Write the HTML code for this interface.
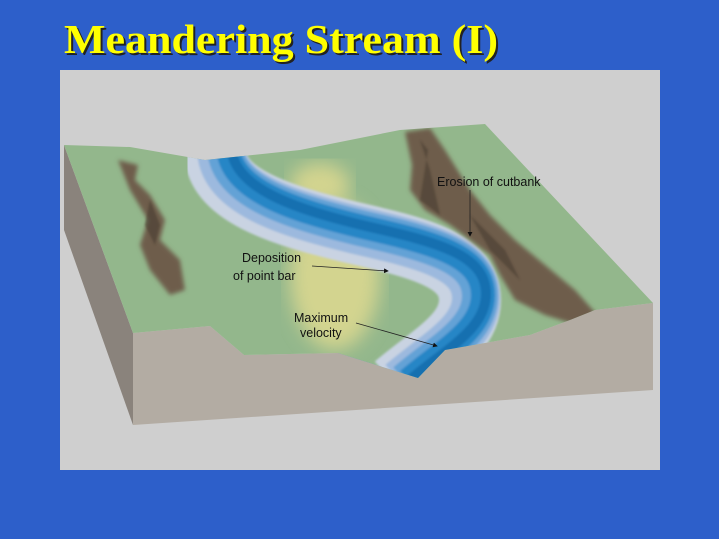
<!DOCTYPE html>
<html><head><meta charset="utf-8"><style>
html,body{margin:0;padding:0;background:#2d5fca;}
svg{display:block}
</style></head><body>
<svg width="719" height="539" viewBox="0 0 719 539" xmlns="http://www.w3.org/2000/svg">
<defs>
<filter id="b2"><feGaussianBlur stdDeviation="2"/></filter>
<filter id="b6"><feGaussianBlur stdDeviation="9"/></filter>
<filter id="b1"><feGaussianBlur stdDeviation="1"/></filter>
<clipPath id="top"><path d="M64,145 L130,147 L205,160 L300,150 L400,130 L485,124 L653,303 L595,310 L570,320 L530,335 L445,350 L418,378 L338,353 L244,355 L210,326 L133,333 Z"/></clipPath>
<marker id="ah" markerWidth="6" markerHeight="6" refX="5" refY="3" orient="auto"><path d="M0,0 L6,3 L0,6 Z" fill="#111"/></marker>
</defs>
<rect width="719" height="539" fill="#2d5fca"/>
<text x="64" y="53" font-family="Liberation Serif, serif" font-weight="bold" font-size="41" fill="#222" textLength="434" lengthAdjust="spacingAndGlyphs" transform="translate(2,2)">Meandering Stream (I)</text>
<text x="64" y="53" font-family="Liberation Serif, serif" font-weight="bold" font-size="41" fill="#ffff00" textLength="434" lengthAdjust="spacingAndGlyphs">Meandering Stream (I)</text>
<rect x="60" y="70" width="600" height="400" fill="#cfcfcf"/>
<path d="M64,145 L64,230 L133,425 L133,333 Z" fill="#8a837c"/>
<path d="M133,333 L210,326 L244,355 L338,353 L418,378 L445,350 L530,335 L570,320 L595,310 L653,303 L653,390 L133,425 Z" fill="#b3aca3"/>
<path d="M338,353 L418,378 L445,350 Z" fill="#4e8fc8"/>
<g clip-path="url(#top)">
<rect x="60" y="110" width="600" height="280" fill="#93b78c"/>
<ellipse cx="335" cy="275" rx="45" ry="75" fill="#d3d48f" filter="url(#b6)"/>
<ellipse cx="320" cy="185" rx="30" ry="22" fill="#d3d48f" filter="url(#b6)"/>
<g fill="none" filter="url(#b1)">
<path d="M215,150 C215,195 280,215 350,232 C420,248 470,260 470,300 C470,335 430,355 395,385" stroke="#c9d3e2" stroke-width="62"/>
<path d="M215,150 C215,195 280,215 350,232 C420,248 470,260 470,300 C470,335 430,355 395,385" stroke="#9cb9de" stroke-width="48" transform="translate(6,-2)"/>
<path d="M215,150 C215,195 280,215 350,232 C420,248 470,260 470,300 C470,335 430,355 395,385" stroke="#64a2d6" stroke-width="36" transform="translate(10,-4)"/>
<path d="M215,150 C215,195 280,215 350,232 C420,248 470,260 470,300 C470,335 430,355 395,385" stroke="#2886c6" stroke-width="24" transform="translate(13,-5)"/>
<path d="M215,150 C215,195 280,215 350,232 C420,248 470,260 470,300 C470,335 430,355 395,385" stroke="#1670b0" stroke-width="10" transform="translate(16,-6)"/>
</g>
<g fill="#6e5d4c" filter="url(#b2)">
<path d="M118,160 L138,165 L135,180 L150,195 L165,220 L160,240 L180,260 L185,290 L170,295 L150,270 L140,245 L148,220 L130,190 Z"/>
<path d="M405,132 L430,128 L445,150 L470,190 L490,215 L515,240 L545,265 L575,290 L600,318 L580,326 L545,315 L515,300 L500,275 L490,255 L470,240 L450,225 L425,210 L410,190 L412,165 Z"/>
</g>
<g fill="#4a3e33" opacity="0.6" filter="url(#b1)">
<path d="M420,140 L428,150 L420,200 L440,215 L430,170 Z"/>
<path d="M470,215 L490,250 L520,280 L505,250 Z"/>
<path d="M150,200 L160,225 L155,245 L145,225 Z"/>
</g>
</g>
<g font-family="Liberation Sans, sans-serif" font-size="12.5" fill="#111">
<text x="437" y="186">Erosion of cutbank</text>
<text x="242" y="262">Deposition</text>
<text x="233" y="280">of point bar</text>
<text x="294" y="322">Maximum</text>
<text x="300" y="337">velocity</text>
</g>
<g stroke="#222" stroke-width="0.8" fill="none">
<line x1="470" y1="190" x2="470" y2="236" marker-end="url(#ah)"/>
<line x1="312" y1="266" x2="388" y2="271" marker-end="url(#ah)"/>
<line x1="356" y1="323" x2="437" y2="346" marker-end="url(#ah)"/>
</g>
</svg>
</body></html>
